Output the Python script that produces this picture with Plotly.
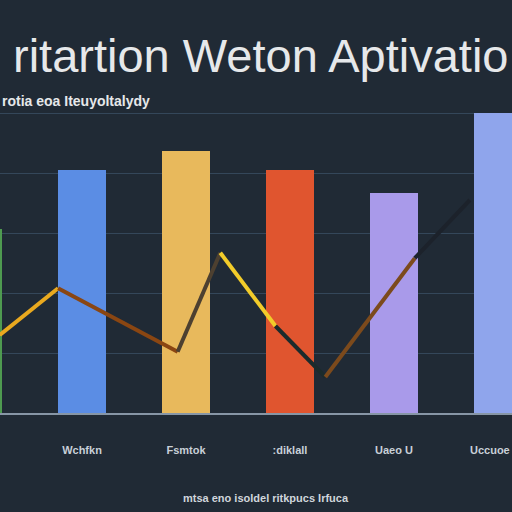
import plotly.graph_objects as go

# ---- data ----
categories = [0, 1, 2, 3, 4, 5]
bar_values = [3.07, 4.05, 4.37, 4.05, 3.67, 5.0]
bar_colors = ["#4e9a50", "#5b8de4", "#e8b95c", "#e0552f", "#a99aea", "#8fa5ec"]
tick_labels = ["", "Wchfkn", "Fsmtok", ":diklall", "Uaeo U", ""]
edge_label = "Uccuoe"

line_x = [0.21, 0.77, 1.92, 2.33, 2.86, 3.34, 4.20, 4.73]
line_y = [1.30, 2.08, 1.02, 2.67, 1.45, 0.60, 2.58, 3.55]
seg_colors = ["#e9a91f", "#8a4612", "#4d4030", "#f2cc2a", "#1b2b2c", "#7c4a1c", "#1c222b"]

title_text = "ritartion Weton Aptivatio"
subtitle_text = "rotia eoa Iteuyoltalydy"
footer_text = "mtsa eno isoldel ritkpucs Irfuca"

fig = go.Figure()
fig.add_trace(go.Bar(
    x=categories, y=bar_values, width=0.47,
    marker=dict(color=bar_colors, line=dict(width=0)),
    showlegend=False, hoverinfo="skip",
))
for i in range(len(line_x) - 1):
    fig.add_trace(go.Scatter(
        x=line_x[i:i + 2], y=line_y[i:i + 2], mode="lines",
        line=dict(color=seg_colors[i], width=4),
        showlegend=False, hoverinfo="skip",
    ))

fig.update_layout(
    width=512, height=512,
    margin=dict(l=0, r=0, t=80, b=99),
    paper_bgcolor="#202a35",
    plot_bgcolor="#202a35",
    bargap=0,
    xaxis=dict(
        range=[0.2115, 5.135], showgrid=False, zeroline=False,
        tickmode="array", tickvals=categories, ticktext=["<b>" + t + "</b>" for t in tick_labels],
        tickfont=dict(family="Liberation Sans", size=11, color="#c8d0d8"),
        ticks="", ticklabelstandoff=26,
        showline=True, linecolor="#8796a6", linewidth=2,
    ),
    yaxis=dict(
        range=[0, 5.55], showticklabels=False, zeroline=False,
        showgrid=True, gridcolor="#34475a", gridwidth=1, dtick=1,
    ),
    annotations=[
        dict(text=title_text, x=0.51, y=1.075, xref="paper", yref="paper",
             showarrow=False, font=dict(family="Liberation Sans", size=47, color="#e6e8ea"),
             xanchor="center", yanchor="middle"),
        dict(text="<b>" + subtitle_text + "</b>", x=0.0, y=0.937, xref="paper", yref="paper",
             showarrow=False, font=dict(family="Liberation Sans", size=14, color="#e6e8ea"),
             xanchor="left", yanchor="middle"),
        dict(text="<b>" + footer_text + "</b>", x=0.52, y=-0.255, xref="paper", yref="paper",
             showarrow=False, font=dict(family="Liberation Sans", size=11, color="#d0d6dc"),
             xanchor="center", yanchor="middle"),
        dict(text="<b>" + edge_label + "</b>", x=1.0, y=-0.112, xref="paper", yref="paper",
             showarrow=False, font=dict(family="Liberation Sans", size=11, color="#c8d0d8"),
             xanchor="right", yanchor="middle"),
    ],
)

fig.write_html("out.html", config={"displayModeBar": False},
               post_script="document.body.style.margin='0';")
